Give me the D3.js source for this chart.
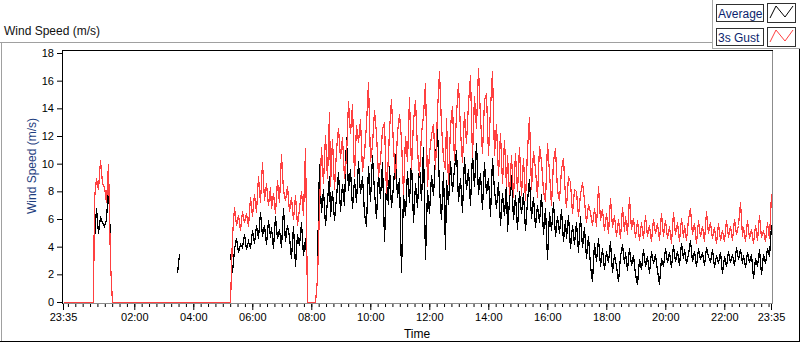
<!DOCTYPE html>
<html><head><meta charset="utf-8">
<script src="https://cdn.jsdelivr.net/npm/d3@7"></script>
<style>
body{margin:0;background:#fff}
svg{display:block;font-family:"Liberation Sans",Arial,sans-serif}
</style>
</head><body>
<svg id="c" width="800" height="342"></svg>
<script>
// ---- data (one sample every 4 minutes, starting 23:35) ----
const stepMinutes = 4;
const seriesNames = ["Average", "3s Gust"];
const yTicks = [0, 2, 4, 6, 8, 10, 12, 14, 16, 18];
const xTickLabels = ["23:35","02:00","04:00","06:00","08:00","10:00","12:00","14:00","16:00","18:00","20:00","22:00","23:35"];

const avgSpeed = [
 null,null,null,null,null,null,null,null,null,null,null,null,null,null,null,
 3.3,
 4.5,6.8,5.0,6.2,5.8,5.5,6.0,8.3,4.5,
 null,null,null,null,null,null,null,null,null,null,null,null,null,null,null,null,null,null,null,null,null,null,null,null,null,null,null,null,null,null,null,null,null,
 2.1,3.5,
 null,null,null,null,null,null,null,null,null,null,null,null,null,null,null,null,null,null,null,null,null,null,null,null,null,
 3.5,2.2,3.8,4.6,3.6,4.2,4.0,4.9,3.8,4.4,
 3.9,5.2,4.3,5.6,4.6,6.5,4.8,5.6,4.2,5.9,
 4.7,5.4,3.9,6.2,4.6,5.3,4.0,6.8,4.4,5.6,
 4.8,3.2,5.5,2.6,4.9,4.1,5.8,3.4,4.6,2.0,
 null,null,null,null,
 3.0,10.0,6.5,8.2,5.6,7.4,9.1,6.2,8.0,5.9,
 7.6,9.4,6.6,8.5,7.0,11.9,8.1,9.6,6.8,8.9,
 7.2,10.2,7.9,9.1,6.4,5.5,9.8,7.3,10.6,8.0,
 6.1,9.3,7.5,10.1,4.4,8.7,7.1,9.8,6.9,8.4,
 10.7,7.6,9.0,2.2,7.8,6.3,9.5,7.2,10.3,5.8,
 8.6,6.9,9.9,7.4,11.2,3.1,8.1,6.4,9.2,7.7,
 10.4,12.6,8.3,6.0,9.4,3.8,8.8,7.1,10.2,8.0,
 9.7,11.0,7.3,9.0,6.5,10.5,8.2,9.6,7.0,10.8,
 8.4,11.5,7.8,9.3,6.7,10.1,7.9,9.0,6.2,10.4,
 8.1,6.8,8.7,5.6,7.9,6.3,8.6,5.1,7.4,9.2,
 6.0,7.7,5.3,8.0,6.4,7.9,5.2,7.3,8.9,6.1,
 7.6,5.4,7.0,5.8,7.8,4.9,6.8,3.1,6.5,5.2,
 7.2,4.8,6.2,5.0,6.7,4.4,5.9,4.6,6.3,3.9,
 5.6,4.2,5.8,3.6,6.2,4.0,5.4,3.2,4.8,2.7,
 1.5,4.3,3.0,4.6,2.6,3.9,2.4,3.7,2.9,4.4,
 2.2,3.5,2.6,1.5,3.3,4.2,2.8,3.6,2.3,3.9,
 2.7,3.4,2.0,1.3,3.1,2.4,3.8,2.6,3.3,2.1,
 3.7,2.8,3.5,2.3,1.3,3.2,2.6,3.9,2.9,3.6,
 2.5,4.1,3.0,3.7,2.7,4.3,3.2,3.8,2.8,3.5,
 4.5,3.0,3.7,2.6,3.9,3.1,3.6,2.7,4.0,3.3,
 2.9,3.8,2.5,3.4,2.8,3.6,2.1,3.3,2.6,3.7,
 2.9,3.5,2.7,4.0,3.1,3.8,2.8,3.4,2.5,3.6,
 2.9,3.5,1.7,3.2,2.6,3.8,2.0,3.5,2.8,3.9,
 3.3,5.6
];

const gustSpeed = [
 0,0,0,0,0,0,0,0,0,0,0,0,0,0,0,0,
 7.5,9.0,8.2,10.3,8.6,8.3,7.2,10.0,2.8,
 0,0,0,0,0,0,0,0,0,0,0,0,0,0,0,0,0,0,0,0,0,0,0,0,0,0,0,0,0,0,0,
 0,0,0,0,0,0,0,0,0,0,0,0,0,0,0,0,0,0,0,0,0,0,0,0,0,0,0,0,0,0,
 4.8,6.9,5.6,6.3,5.2,6.6,5.8,6.4,5.5,7.6,
 6.2,7.8,6.5,9.1,7.2,10.1,7.4,8.6,7.0,8.3,
 6.8,7.9,6.4,8.8,7.2,10.7,8.1,7.4,8.4,6.6,
 7.6,6.0,7.7,5.6,6.8,8.0,6.3,11.1,
 0,0,0,0,0,
 1.7,6.8,11.2,8.6,12.1,9.0,13.7,8.4,11.8,8.2,
 11.0,12.6,10.4,11.9,9.0,10.5,14.5,12.2,14.3,9.1,
 12.8,11.6,13.2,9.5,10.8,12.9,15.9,10.2,11.4,13.9,
 12.2,9.1,10.3,12.5,13.0,7.9,10.6,12.4,14.7,11.3,
 9.0,12.3,13.6,11.8,7.8,12.0,10.2,14.8,9.6,13.1,
 14.6,11.0,9.2,12.2,13.5,15.8,8.4,10.8,12.1,12.9,
 9.6,13.8,16.7,12.8,10.4,9.6,13.3,8.5,12.7,14.2,
 10.3,13.6,15.8,12.4,10.1,13.7,11.5,14.4,16.4,10.5,
 14.9,12.6,16.9,13.4,10.8,14.6,15.1,10.6,14.0,16.7,
 10.6,12.9,9.2,12.2,8.6,11.7,8.4,10.6,7.8,10.6,
 7.6,10.8,8.0,11.2,7.7,10.4,7.4,11.0,13.4,8.2,
 10.9,9.6,7.6,11.3,10.2,8.0,7.3,11.5,9.4,7.0,
 10.2,11.1,8.1,7.4,9.6,10.4,7.6,6.9,9.1,8.7,
 6.4,8.2,8.0,6.2,7.8,8.7,7.4,5.8,7.1,6.5,
 5.6,6.8,5.5,8.4,5.9,6.7,5.2,6.4,5.0,7.5,
 5.4,6.3,4.8,6.0,4.6,6.9,5.1,6.2,4.9,7.6,
 5.3,6.1,4.7,5.9,4.5,5.8,4.6,6.3,4.8,5.6,
 4.4,6.0,5.0,5.7,4.5,6.4,4.8,5.9,4.6,5.5,
 4.3,6.5,4.9,5.8,4.4,6.1,4.7,5.6,4.5,6.0,
 6.8,4.9,5.7,4.3,5.9,4.8,5.5,4.4,6.6,5.0,
 5.8,4.6,5.4,4.3,5.7,4.5,5.2,4.4,5.9,4.7,
 5.5,4.5,6.0,4.9,5.6,7.2,4.8,5.4,4.4,5.9,
 4.6,5.3,4.3,5.6,4.5,6.3,4.7,5.2,4.4,5.8,
 4.6,7.8
];

// ---- chart ----
const svg = d3.select("#c");
const FONT = '"Liberation Sans", Arial, sans-serif';
const t0 = new Date(2000, 0, 1, 23, 35);
const t1 = d3.timeMinute.offset(t0, 1440);
const x = d3.scaleTime().domain([t0, t1]).range([63, 771]);
const y = d3.scaleLinear().domain([0, 18]).range([302, 53]);
const timeAt = i => d3.timeMinute.offset(t0, i * stepMinutes);

// outer frame
svg.append("rect").attr("x",0).attr("y",0).attr("width",800).attr("height",342).attr("fill","#fff");
svg.append("line").attr("x1",0).attr("x2",712).attr("y1",42.5).attr("y2",42.5).attr("stroke","#a0a0a0");
svg.append("line").attr("x1",1.5).attr("x2",1.5).attr("y1",42).attr("y2",342).attr("stroke","#a0a0a0");
svg.append("line").attr("x1",0).attr("x2",800).attr("y1",341.5).attr("y2",341.5).attr("stroke","#000");
svg.append("line").attr("x1",799.5).attr("x2",799.5).attr("y1",49).attr("y2",342).attr("stroke","#000");

// title
svg.append("text").attr("x",4).attr("y",35).attr("font-size",12).attr("font-family",FONT)
  .attr("fill","#111").text("Wind Speed (m/s)");

// plot area borders
svg.append("line").attr("x1",62).attr("x2",773).attr("y1",50.5).attr("y2",50.5).attr("stroke","#000");
svg.append("line").attr("x1",772.5).attr("x2",772.5).attr("y1",51).attr("y2",304).attr("stroke","#8c8c8c");
svg.append("line").attr("x1",62).attr("x2",773).attr("y1",303.5).attr("y2",303.5).attr("stroke","#8c8c8c");
svg.append("line").attr("x1",62.5).attr("x2",62.5).attr("y1",50).attr("y2",304).attr("stroke","#000");

// data lines
const plot = svg.append("g").attr("transform","translate(0.5,0.5)");
const line = d3.line()
  .defined(d => d.v != null)
  .x(d => Math.round(x(d.t)))
  .y(d => Math.round(y(d.v)));
const avgData = avgSpeed.map((v, i) => ({t: timeAt(i), v}));
const gustData = gustSpeed.map((v, i) => ({t: timeAt(i), v}));
plot.append("path").datum(avgData).attr("d", line).attr("fill","none")
  .attr("stroke","#000").attr("stroke-width",1.25).attr("shape-rendering","crispEdges");
plot.append("path").datum(gustData).attr("d", line).attr("fill","none")
  .attr("stroke","#ff4040").attr("stroke-width",1.25).attr("shape-rendering","crispEdges");

// y axis
const yAxis = svg.append("g").attr("transform","translate(62,0)")
  .call(d3.axisLeft(y).tickValues(yTicks).tickSize(5).tickPadding(3));
yAxis.select(".domain").remove();
yAxis.selectAll("line").attr("stroke","#000");
yAxis.selectAll("text").attr("font-size",11).attr("font-family",FONT).attr("fill","#000");

// x axis: minor + major ticks
const minorTimes = d3.timeMinute.every(15).range(t0, t1);
const majorTimes = xTickLabels.map((lab, k) => {
  if (k === 0) return t0;
  if (k === xTickLabels.length - 1) return t1;
  const [h, m] = lab.split(":").map(Number);
  return new Date(2000, 0, 2, h, m);
});
const xMinor = svg.append("g").attr("transform","translate(0,304)")
  .call(d3.axisBottom(x).tickValues(minorTimes).tickSize(3).tickFormat(""));
xMinor.select(".domain").remove();
xMinor.selectAll("line").attr("stroke","#000");
const xMajor = svg.append("g").attr("transform","translate(0,304)")
  .call(d3.axisBottom(x).tickValues(majorTimes).tickSize(6).tickPadding(3)
    .tickFormat((d, i) => xTickLabels[i]));
xMajor.select(".domain").remove();
xMajor.selectAll("line").attr("stroke","#000");
xMajor.selectAll("text").attr("font-size",11).attr("font-family",FONT).attr("fill","#000");

// axis titles
svg.append("text").attr("x",417).attr("y",338).attr("text-anchor","middle")
  .attr("font-size",12).attr("font-family",FONT).attr("fill","#000").text("Time");
svg.append("text").attr("transform","translate(36,166) rotate(-90)").attr("text-anchor","middle")
  .attr("font-size",12).attr("font-family",FONT).attr("fill","#1f3f7f").text("Wind Speed (m/s)");

// legend
const lg = svg.append("g");
lg.append("rect").attr("x",712.5).attr("y",-1).attr("width",92).attr("height",49.5)
  .attr("fill","#fff").attr("stroke","#a8a8a8");
const legendColors = ["#000", "#ff4040"];
seriesNames.forEach((name, k) => {
  const oy = k * 24;
  lg.append("rect").attr("x",716.5).attr("y",4.5 + oy).attr("width",47).attr("height",17)
    .attr("fill","#fff").attr("stroke","#303030");
  lg.append("text").attr("x",718).attr("y",17.5 + oy).attr("font-size",12).attr("font-family",FONT)
    .attr("fill","#0c1f6e").text(name);
  lg.append("rect").attr("x",767.5).attr("y",3.5 + oy).attr("width",28).attr("height",19)
    .attr("fill","#fff").attr("stroke","#303030");
  lg.append("polyline")
    .attr("points", [[770,18+oy],[776,6+oy],[785,17+oy],[793,6+oy]].map(p => p.join(",")).join(" "))
    .attr("fill","none").attr("stroke",legendColors[k]).attr("stroke-width",1);
});
</script>
</body></html>
